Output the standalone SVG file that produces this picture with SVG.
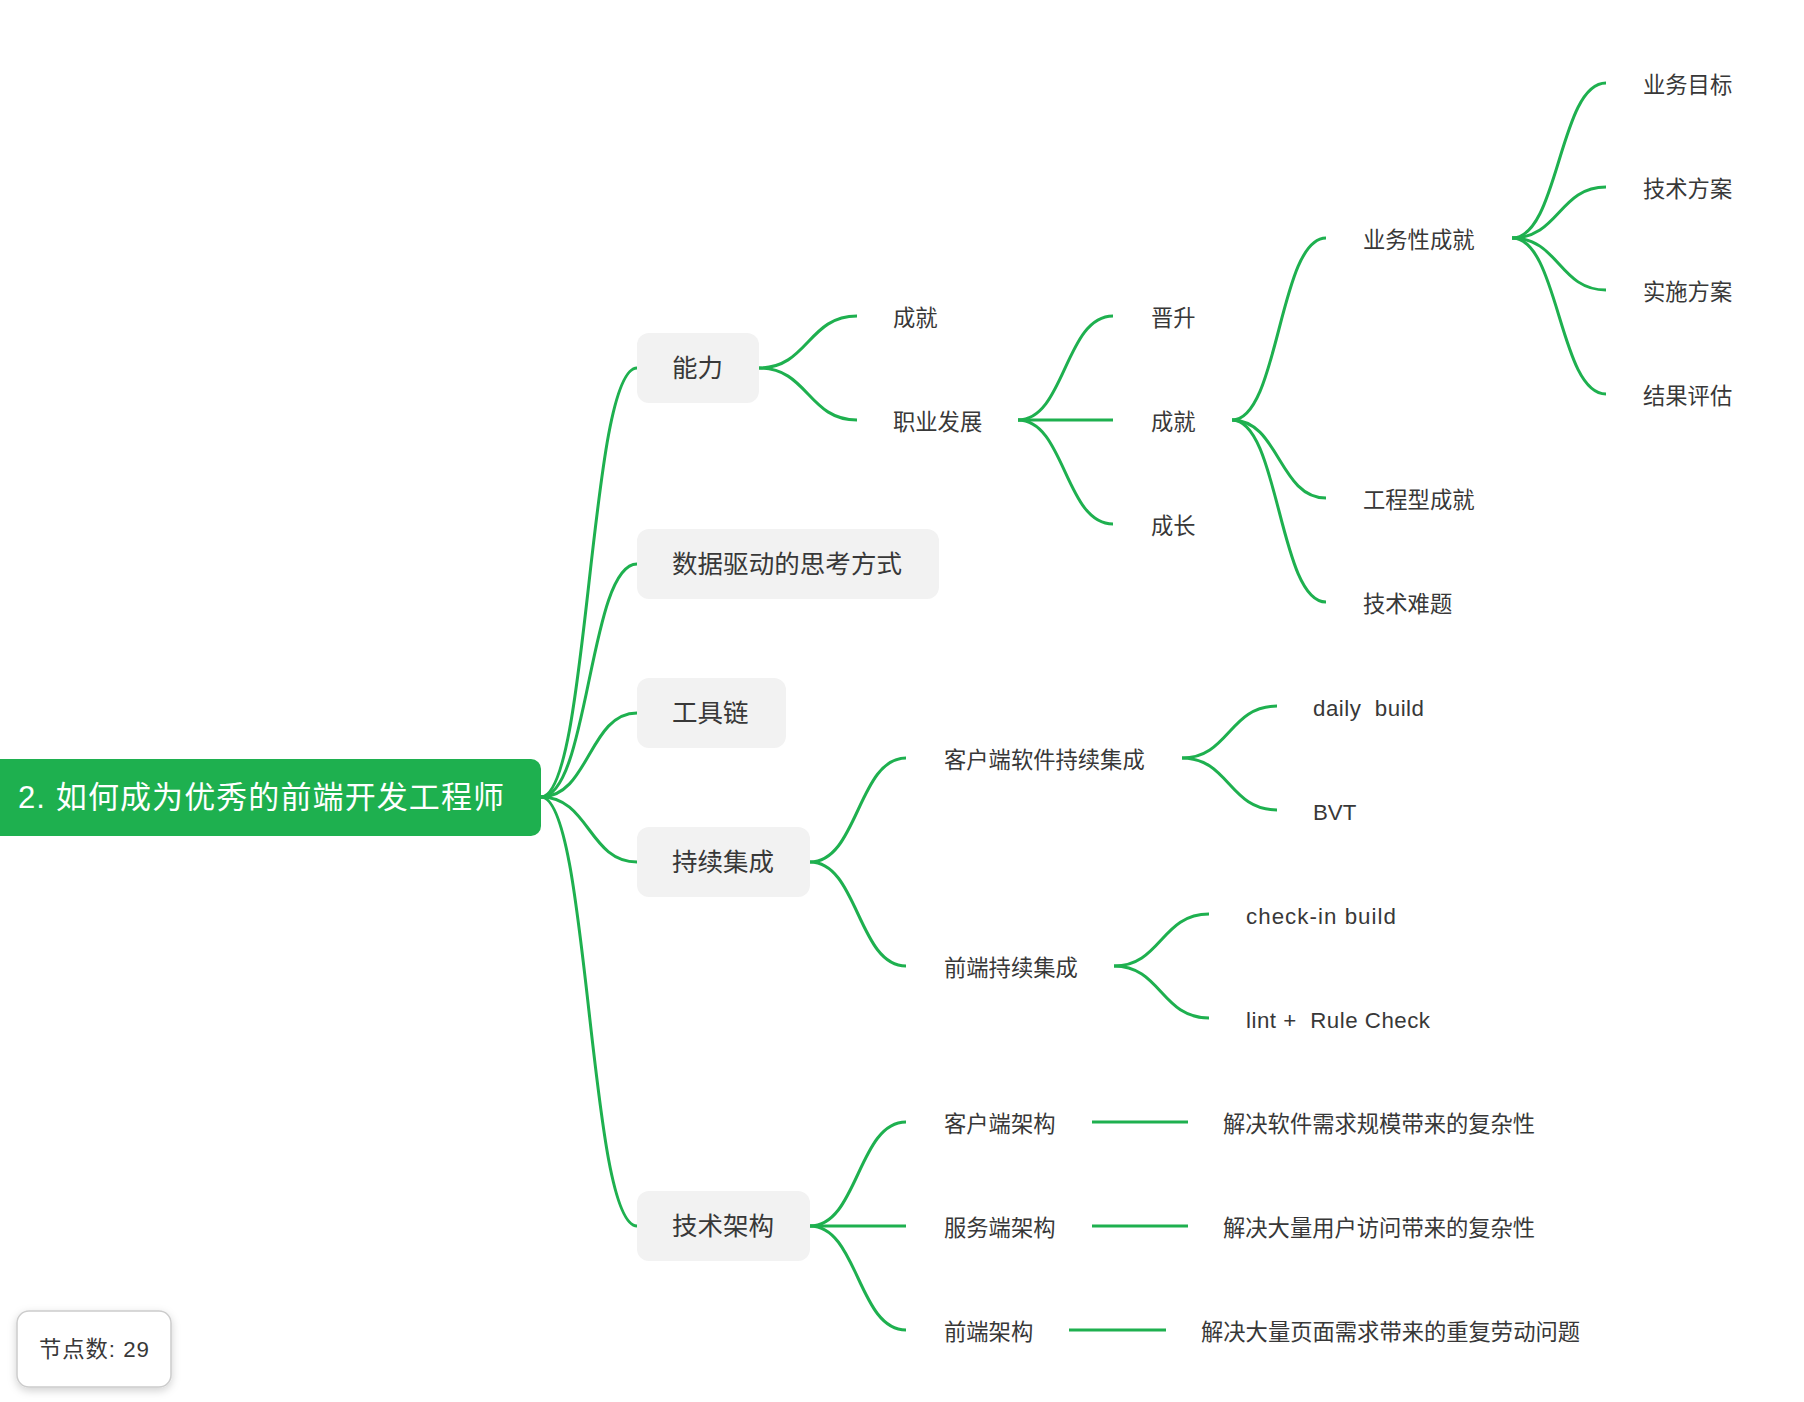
<svg xmlns="http://www.w3.org/2000/svg" width="1804" height="1402" viewBox="0 0 1804 1402">
<style>
.ln{fill:none;stroke:#1eb04f;stroke-width:3}
.t{font-family:"Liberation Sans","Noto Sans CJK SC",sans-serif;font-size:22.3px;fill:#383838;white-space:pre}
.t1{font-size:25.5px}
.box{fill:#f2f2f2}
.root{fill:#1eb04f}
.rt{font-family:"Liberation Sans","Noto Sans CJK SC",sans-serif;font-size:31px;fill:#ffffff}
</style>
<defs>
<filter id="sh" x="-20%" y="-20%" width="140%" height="150%">
<feDropShadow dx="0" dy="3" stdDeviation="4" flood-color="#000" flood-opacity="0.18"/>
</filter>
</defs>
<rect width="1804" height="1402" fill="#ffffff"/>
<g id="connectors">
<path class="ln" d="M541 797 C589 797 589 368 637 368"/>
<path class="ln" d="M541 797 C589 797 589 564 637 564"/>
<path class="ln" d="M541 797 C589 797 589 713 637 713"/>
<path class="ln" d="M541 797 C589 797 589 862 637 862"/>
<path class="ln" d="M541 797 C589 797 589 1226 637 1226"/>
<path class="ln" d="M759 368 C808 368 808 316 857 316"/>
<path class="ln" d="M759 368 C808 368 808 420 857 420"/>
<path class="ln" d="M1018 420 C1065 420 1065 316 1113 316"/>
<path class="ln" d="M1018 420 L1113 420"/>
<path class="ln" d="M1018 420 C1065 420 1065 524 1113 524"/>
<path class="ln" d="M1232 420 C1279 420 1279 238 1326 238"/>
<path class="ln" d="M1232 420 C1279 420 1279 498 1326 498"/>
<path class="ln" d="M1232 420 C1279 420 1279 602 1326 602"/>
<path class="ln" d="M1512 238 C1559 238 1559 83 1606 83"/>
<path class="ln" d="M1512 238 C1559 238 1559 187 1606 187"/>
<path class="ln" d="M1512 238 C1559 238 1559 290 1606 290"/>
<path class="ln" d="M1512 238 C1559 238 1559 394 1606 394"/>
<path class="ln" d="M810 862 C858 862 858 758 906 758"/>
<path class="ln" d="M810 862 C858 862 858 966 906 966"/>
<path class="ln" d="M1182 758 C1229 758 1229 706 1277 706"/>
<path class="ln" d="M1182 758 C1229 758 1229 810 1277 810"/>
<path class="ln" d="M1114 966 C1161 966 1161 914 1209 914"/>
<path class="ln" d="M1114 966 C1161 966 1161 1018 1209 1018"/>
<path class="ln" d="M810 1226 C858 1226 858 1122 906 1122"/>
<path class="ln" d="M810 1226 L906 1226"/>
<path class="ln" d="M810 1226 C858 1226 858 1330 906 1330"/>
<path class="ln" d="M1092 1122 L1188 1122"/>
<path class="ln" d="M1092 1226 L1188 1226"/>
<path class="ln" d="M1069 1330 L1166 1330"/>
</g>
<g id="root">
<rect class="root" x="-20" y="759" width="561" height="77" rx="10"/>
<text class="rt" x="18" y="808" textLength="486" lengthAdjust="spacing">2. 如何成为优秀的前端开发工程师</text>
</g>
<g id="n-nengli">
<rect class="box" x="637" y="333" width="122" height="70" rx="12"/>
<text class="t t1" x="672" y="377">能力</text>
</g>
<g id="n-shuju">
<rect class="box" x="637" y="529" width="302" height="70" rx="12"/>
<text class="t t1" x="672" y="573" textLength="230" lengthAdjust="spacing">数据驱动的思考方式</text>
</g>
<g id="n-gongju">
<rect class="box" x="637" y="678" width="149" height="70" rx="12"/>
<text class="t t1" x="672" y="722">工具链</text>
</g>
<g id="n-chixu">
<rect class="box" x="637" y="827" width="173" height="70" rx="12"/>
<text class="t t1" x="672" y="871">持续集成</text>
</g>
<g id="n-jiagou">
<rect class="box" x="637" y="1191" width="173" height="70" rx="12"/>
<text class="t t1" x="672" y="1235">技术架构</text>
</g>
<g id="n-chengjiu1"><text class="t" x="893" y="326">成就</text></g>
<g id="n-zhiye"><text class="t" x="893" y="430">职业发展</text></g>
<g id="n-jinsheng"><text class="t" x="1151" y="326">晋升</text></g>
<g id="n-chengjiu2"><text class="t" x="1151" y="430">成就</text></g>
<g id="n-chengzhang"><text class="t" x="1151" y="534">成长</text></g>
<g id="n-yewuxing"><text class="t" x="1363" y="248">业务性成就</text></g>
<g id="n-gongchengxing"><text class="t" x="1363" y="508">工程型成就</text></g>
<g id="n-nanti"><text class="t" x="1363" y="612">技术难题</text></g>
<g id="n-mubiao"><text class="t" x="1643" y="93">业务目标</text></g>
<g id="n-jishufangan"><text class="t" x="1643" y="197">技术方案</text></g>
<g id="n-shishi"><text class="t" x="1643" y="300">实施方案</text></g>
<g id="n-jieguo"><text class="t" x="1643" y="404">结果评估</text></g>
<g id="n-kehuduanci"><text class="t" x="944" y="768">客户端软件持续集成</text></g>
<g id="n-qianduanci"><text class="t" x="944" y="976">前端持续集成</text></g>
<g id="n-daily"><text class="t" x="1313" y="716" textLength="111" lengthAdjust="spacing">daily  build</text></g>
<g id="n-bvt"><text class="t" x="1313" y="820">BVT</text></g>
<g id="n-checkin"><text class="t" x="1246" y="924" textLength="150" lengthAdjust="spacing">check-in build</text></g>
<g id="n-lint"><text class="t" x="1246" y="1028" textLength="184" lengthAdjust="spacing">lint +  Rule Check</text></g>
<g id="n-kehuduanjg"><text class="t" x="944" y="1132">客户端架构</text></g>
<g id="n-fuwuduanjg"><text class="t" x="944" y="1236">服务端架构</text></g>
<g id="n-qianduanjg"><text class="t" x="944" y="1340">前端架构</text></g>
<g id="n-desc1"><text class="t" x="1223" y="1132">解决软件需求规模带来的复杂性</text></g>
<g id="n-desc2"><text class="t" x="1223" y="1236">解决大量用户访问带来的复杂性</text></g>
<g id="n-desc3"><text class="t" x="1201" y="1340">解决大量页面需求带来的重复劳动问题</text></g>
<g id="node-count">
<rect x="17" y="1311" width="154" height="76" rx="12" fill="#ffffff" stroke="#cccccc" stroke-width="1.5" filter="url(#sh)"/>
<text class="t" x="39" y="1357" textLength="110" lengthAdjust="spacing">节点数: 29</text>
</g>
</svg>
